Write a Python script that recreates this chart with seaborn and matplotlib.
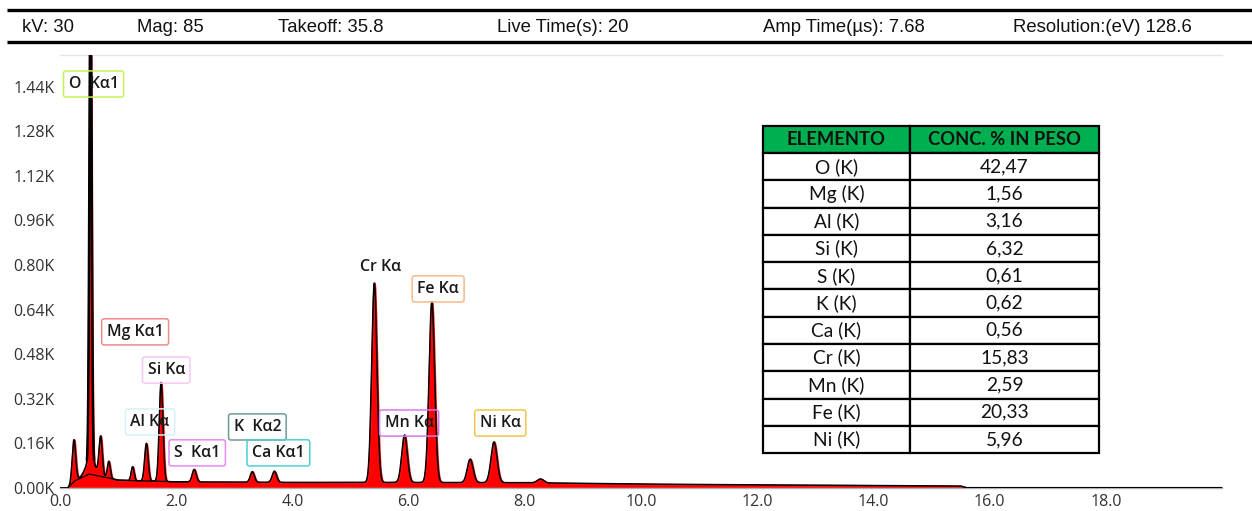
import numpy as np
import pandas as pd
import matplotlib
matplotlib.use("Agg")
import matplotlib.pyplot as plt
from matplotlib.lines import Line2D
from matplotlib.ticker import FixedLocator, FuncFormatter
import seaborn as sns

# ---- acquisition header ----
header_items = ["kV: 30", "Mag: 85", "Takeoff: 35.8", "Live Time(s): 20",
                "Amp Time(µs): 7.68", "Resolution:(eV) 128.6"]

# ---- EDS spectrum: characteristic lines (keV), net heights (counts), widths (keV) ----
peak_energy = [0.24, 0.525, 0.525, 0.70, 0.84, 1.25, 1.487, 1.74, 2.31,
               3.31, 3.69, 5.41, 5.93, 6.40, 7.06, 7.47, 8.27]
peak_height = [150, 1680, 55, 140, 60, 50, 135, 355, 45,
               38, 40, 715, 170, 648, 84, 146, 14]
peak_sigma = [0.030, 0.020, 0.080, 0.028, 0.025, 0.025, 0.030, 0.032, 0.035,
              0.035, 0.038, 0.045, 0.048, 0.048, 0.050, 0.052, 0.055]

# bremsstrahlung continuum (keV, counts)
bg_energy = [0.00, 0.13, 0.25, 0.50, 0.80, 1.00, 2.00, 4.00, 6.00, 8.00,
             10.0, 12.0, 14.0, 15.5, 15.6, 20.0]
bg_counts = [0, 0, 25, 50, 38, 28, 22, 20, 20, 19,
             14, 11, 9, 7, 1, 1]

# ---- peak identification labels ----
label_text = ["O  Kα1", "Mg Kα1", "Si Kα", "Al Kα", "S  Kα1", "K  Kα2",
              "Ca Kα1", "Cr Kα", "Fe Kα", "Mn Kα", "Ni Kα"]
label_edge = ["#c4f25a", "#f08a8a", "#f4c8f4", "#d6f2f8", "#e48af0", "#6f9a98",
              "#4fd0d0", "#ffffff", "#f5b98a", "#d77be6", "#f2c44a"]
label_keV = [0.578, 1.293, 1.828, 1.55, 2.362, 3.397, 3.759, 5.517, 6.509, 6.009, 7.578]
label_cts = [1449, 560, 423, 237, 126, 219, 126, 793, 714, 233, 233]

# ---- quantification table ----
table_cols = ["ELEMENTO", "CONC. % IN PESO"]
elements = ["O (K)", "Mg (K)", "Al (K)", "Si (K)", "S (K)", "K (K)",
            "Ca (K)", "Cr (K)", "Mn (K)", "Fe (K)", "Ni (K)"]
concentration = ["42,47", "1,56", "3,16", "6,32", "0,61", "0,62",
                 "0,56", "15,83", "2,59", "20,33", "5,96"]

# ---------------------------------------------------------------
sns.set_theme(style="white")
plt.rcParams["font.family"] = ["Open Sans", "DejaVu Sans"]

W, H = 1252, 511
fig = plt.figure(figsize=(W / 100, H / 100), dpi=100)

# build the spectrum from the line list on top of the continuum
energy = np.linspace(0, 20, 8001)
continuum = np.interp(energy, bg_energy, bg_counts)
counts = continuum.copy()
for e0, h, s in zip(peak_energy, peak_height, peak_sigma):
    counts += h * np.exp(-0.5 * ((energy - e0) / s) ** 2)
counts[energy < 0.13] = 0
spec = pd.DataFrame({"energy": energy, "counts": counts, "continuum": continuum})

ax = fig.add_axes([60 / W, 1 - 488 / H, (1222 - 60) / W, (488 - 55) / H])
ax.fill_between(spec["energy"], 0, spec["counts"], color="#ff0000", lw=1.4,
                edgecolor="#ff1a1a", zorder=2)
sns.lineplot(data=spec, x="energy", y="counts", color="black", lw=1.1,
             estimator=None, ax=ax, zorder=3)
oxygen = spec[(spec["energy"] > 0.46) & (spec["energy"] < 0.59)]
sns.lineplot(data=oxygen, x="energy", y="counts", color="black", lw=1.8,
             estimator=None, ax=ax, zorder=3)
hump = spec[(spec["energy"] > 0.15) & (spec["energy"] < 2.2)]
sns.lineplot(data=hump, x="energy", y="continuum", color="black", lw=0.9,
             estimator=None, ax=ax, zorder=3)

ax.set_xlim(0, 20)
ax.set_ylim(0, 1553)
ax.set_xlabel("")
ax.set_ylabel("")
ax.xaxis.set_major_locator(FixedLocator(np.arange(0, 19, 2.0)))
ax.xaxis.set_major_formatter(FuncFormatter(lambda v, p: f"{v:.1f}"))
ax.yaxis.set_major_locator(FixedLocator(np.arange(0, 1441, 160)))
ax.yaxis.set_major_formatter(FuncFormatter(lambda v, p: f"{v / 1000:.2f}K"))
ax.tick_params(axis="both", labelsize=11.5, colors="#bbbbbb", labelcolor="#333333",
               length=2.5, width=0.8, pad=1.5)
for side in ("left", "right"):
    ax.spines[side].set_visible(False)
ax.spines["top"].set_color("#e6e6e6")
ax.spines["top"].set_linewidth(1.0)
ax.spines["bottom"].set_color("#b0b0b0")
ax.spines["bottom"].set_linewidth(1.0)

for txt, ec, xk, yc in zip(label_text, label_edge, label_keV, label_cts):
    ax.text(xk, yc, txt, ha="center", va="center", fontsize=11.4,
            fontweight="semibold", color="#1a1a1a", zorder=5,
            bbox=dict(boxstyle="round,pad=0.32,rounding_size=0.15",
                      fc="none", ec=ec, lw=1.1))

# header band
for yp in (10, 42.5):
    fig.add_artist(Line2D([7 / W, 1.0], [1 - yp / H] * 2, color="black",
                          lw=2.4, solid_capstyle="butt"))
header_x = [22, 137, 278, 497, 763, 1013]
for txt, xp in zip(header_items, header_x):
    fig.text(xp / W, 1 - 27 / H, txt, ha="left", va="center", fontsize=13.3,
             family=["Liberation Sans", "DejaVu Sans"], color="#111111")

# quantification table
tax = fig.add_axes([763 / W, 1 - 453 / H, (1099 - 763) / W, (453 - 126) / H])
tax.axis("off")
cells = [[e, c] for e, c in zip(elements, concentration)]
tbl = tax.table(cellText=cells, colLabels=table_cols, cellLoc="center",
                colWidths=[147 / 336, 189 / 336], bbox=[0, 0, 1, 1])
tbl.auto_set_font_size(False)
for (r, c), cell in tbl.get_celld().items():
    cell.set_edgecolor("black")
    cell.set_linewidth(1.6)
    cell.get_text().set_family(["Lato", "DejaVu Sans"])
    cell.get_text().set_color("#111111")
    if r == 0:
        cell.set_facecolor("#00b050")
        cell.get_text().set_fontweight("bold")
        cell.get_text().set_fontsize(13.2)
    else:
        cell.set_facecolor("white")
        cell.get_text().set_fontsize(13.8)

fig.savefig("out.png", dpi=100)
